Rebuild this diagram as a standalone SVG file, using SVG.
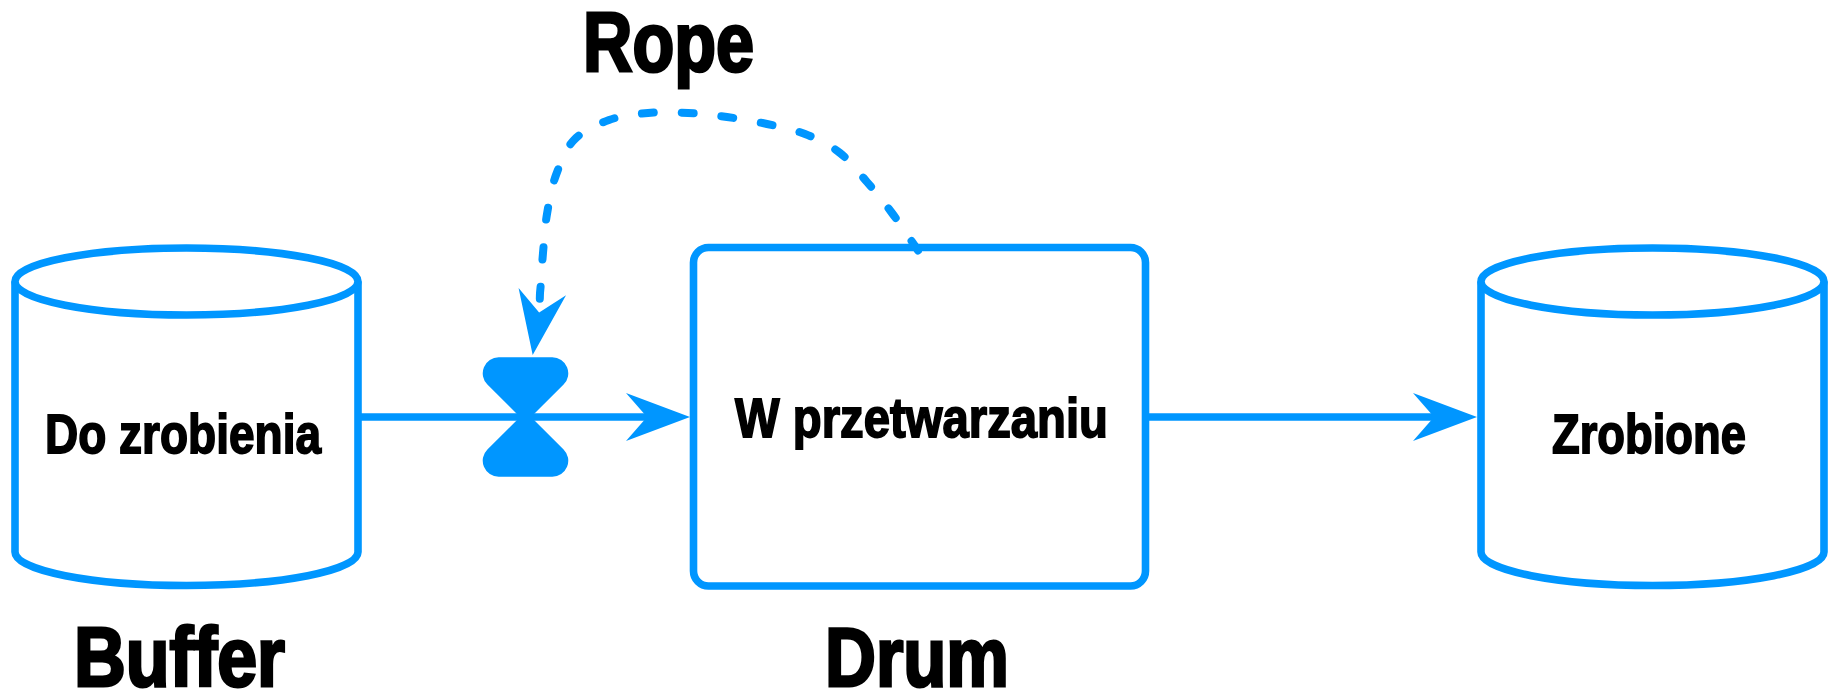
<svg xmlns="http://www.w3.org/2000/svg" width="1831" height="693" viewBox="0 0 1831 693">
  <style>
    .shape { fill: #fff; stroke: #0096ff; stroke-width: 7.600; stroke-linejoin: round; }
    .solid { fill: none; stroke: #0096ff; stroke-width: 7.600; marker-end: url(#arrow); }
    .dashed { fill: none; stroke: #0096ff; stroke-width: 8; stroke-linecap: round; stroke-dasharray: 12 28; stroke-dashoffset: 0.500; marker-end: url(#arrow); }
    text { font-family: "Liberation Sans", Arial, sans-serif; font-weight: 700; fill: #000; stroke: #000; }
    .inner { font-size: 56px; stroke-width: 1.800px; }
    .title { font-size: 84px; stroke-width: 3px; }
  </style>
  <defs>
    <marker id="arrow" markerUnits="userSpaceOnUse" markerWidth="70" markerHeight="54" refX="24" refY="27" viewBox="0 0 70 54" orient="auto">
      <path d="M0 3 L64 27 L0 51 L21 27 Z" fill="#0096ff"/>
    </marker>
  </defs>
  <rect width="1831" height="693" fill="#fff"/>
  <g id="buffer">
    <path class="shape" d="M15 281.5 V552 C15 570.500 91.800 585.500 186.500 585.500 S358 570.500 358 552 V281.500"/>
    <ellipse class="shape" cx="186.500" cy="281.500" rx="171.500" ry="33.500"/>
    <text class="inner" x="45" y="453" textLength="276" lengthAdjust="spacingAndGlyphs">Do zrobienia</text>
  </g>
  <g id="drum">
    <rect class="shape" x="693.500" y="247.500" width="452" height="338.500" rx="15" ry="15"/>
    <text class="inner" x="735" y="436.500" textLength="373" lengthAdjust="spacingAndGlyphs">W przetwarzaniu</text>
  </g>
  <g id="done">
    <path class="shape" d="M1481 281.5 V552 C1481 570.500 1557.800 585.500 1652.500 585.500 S1824 570.500 1824 552 V281.500"/>
    <ellipse class="shape" cx="1652.500" cy="281.500" rx="171.500" ry="33.500"/>
    <text class="inner" x="1552" y="453" textLength="194" lengthAdjust="spacingAndGlyphs">Zrobione</text>
  </g>
  <g id="connectors">
    <path class="solid" d="M361 417 H650"/>
    <path class="solid" d="M1149 417 H1437"/>
    <path class="dashed" pathLength="588" d="M918 250.500 L915 246 C907.300 235 900 223.700 892 213 C884 202.300 875.700 192 867 182 C858.300 172 850.300 161 840 153 C829.700 145 817.200 138.800 805 134 C792.800 129.200 780 126.800 767 124 C754 121.200 740.200 118.800 727 117 C713.800 115.200 701.200 113.700 688 113 C674.800 112.300 661.200 111.800 648 113 C634.800 114.200 621.300 115.500 609 120 C596.700 124.500 582.800 130.800 574 140 C565.200 149.200 560.500 162.700 556 175 C551.500 187.300 549.200 201 547 214 C544.800 227 544.200 239.800 543 253 C541.800 266.200 541.700 276 540 293 C539.700 299 539.900 307.500 538.700 315.400"/>
  </g>
  <g id="valve">
    <path fill="#0096ff" d="M498.700 357.300 H552.300 A16 16 0 0 1 563.600 384.600 L531 417 L563.600 449.400 A16 16 0 0 1 552.300 476.700 H498.700 A16 16 0 0 1 487.400 449.400 L520 417 L487.400 384.600 A16 16 0 0 1 498.700 357.300 Z"/>
  </g>
  <g id="labels">
    <text class="title" x="583" y="71" textLength="171" lengthAdjust="spacingAndGlyphs">Rope</text>
    <text class="title" x="74" y="686" textLength="211" lengthAdjust="spacingAndGlyphs">Buffer</text>
    <text class="title" x="825" y="686" textLength="184" lengthAdjust="spacingAndGlyphs">Drum</text>
  </g>
</svg>
